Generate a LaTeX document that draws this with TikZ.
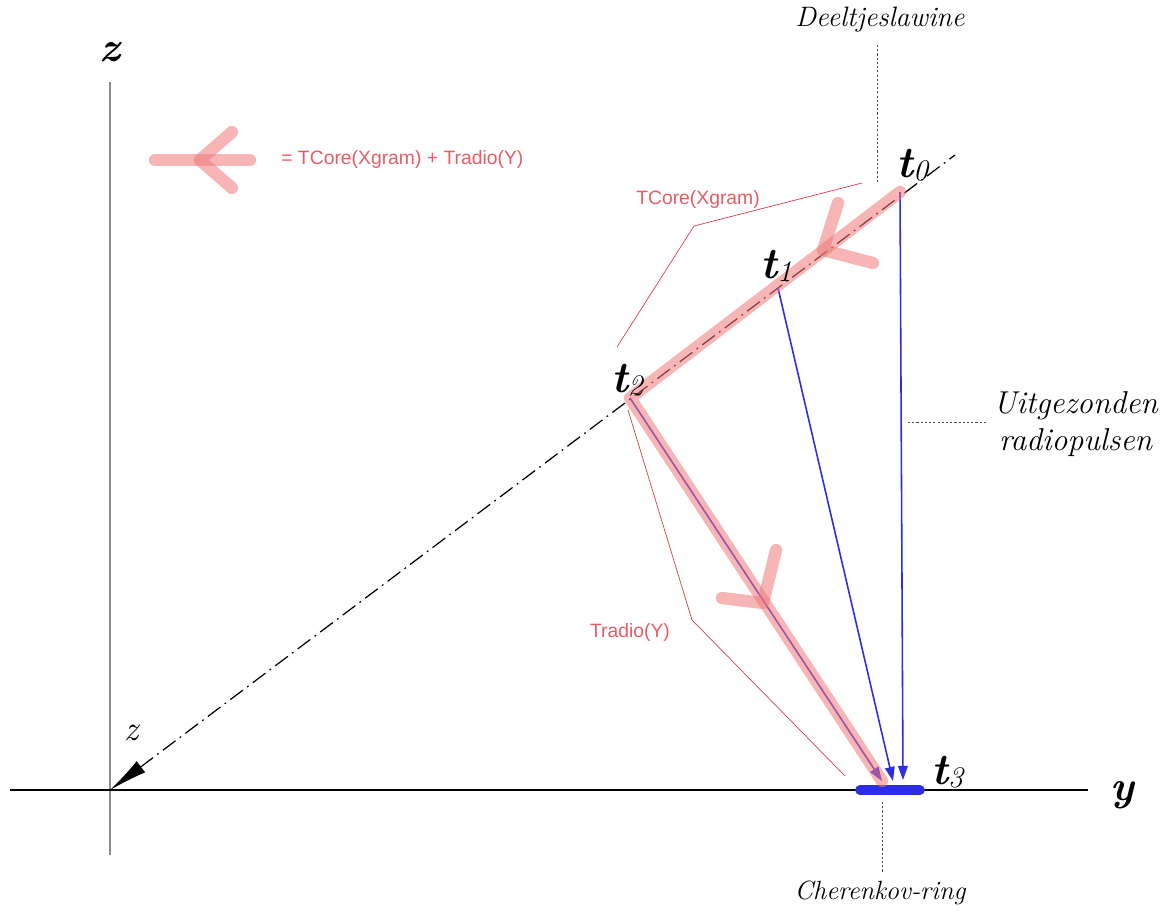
\documentclass[tikz,border=0pt]{standalone}
\usepackage{fontspec}
\newfontfamily\sansfam{Liberation Sans}
\usetikzlibrary{arrows.meta}
\definecolor{pinkred}{RGB}{240,120,120}
\definecolor{labred}{RGB}{232,92,102}
\definecolor{thinred}{RGB}{220,60,70}
\definecolor{myblue}{RGB}{45,45,225}
\definecolor{axisgray}{RGB}{140,140,140}
\newcommand\tsym[1]{{\fontsize{25}{25}\selectfont\bfseries\itshape t}\raisebox{-2pt}{\fontsize{17}{17}\selectfont\itshape #1}}
\begin{document}
\begin{tikzpicture}[x=0.02cm,y=-0.02cm,
  lab/.style={font=\fontsize{16}{19}\selectfont\itshape, inner sep=0pt, align=center},
  axlab/.style={font=\fontsize{24}{24}\selectfont\bfseries\itshape, inner sep=0pt},
  tlab/.style={inner sep=0pt},
  redtxt/.style={font=\sansfam\fontsize{11}{13}\selectfont, text=labred, inner sep=0pt},
  pinkband/.style={line width=7pt, draw=pinkred, draw opacity=0.55, line cap=round, line join=round},
  ray/.style={draw=myblue, line width=0.9pt, -{Triangle[length=8pt,width=5.5pt]}},
  thin/.style={draw=thinred, line width=0.4pt},
  dots/.style={draw=black!70, line width=0.5pt, dash pattern=on 1.2pt off 1.2pt},
  axis/.style={line width=0.7pt}]
\useasboundingbox (0,0) rectangle (1175,918);
% key points
\coordinate (O) at (110,790);
\coordinate (zt) at (110,82);
\coordinate (zb) at (110,855);
\coordinate (yl) at (10,790);
\coordinate (yr) at (1088,790);
\coordinate (dend) at (955,155);
\coordinate (t0) at (900,192);
\coordinate (t1) at (778,288);
\coordinate (t2) at (630,398);
\coordinate (a0) at (903,780);
\coordinate (a1) at (893,781);
\coordinate (a2) at (882,781);
\coordinate (ringL) at (860,790);
\coordinate (ringR) at (920,790);
% axes
\draw[axis, draw=axisgray] (zb) -- (zt);
\draw[axis] (yl) -- (yr);
\node[axlab] (zlab) at (110,52) {z};
\node[axlab] (ylab) at (1122,795) {y};
\node[font=\fontsize{20}{20}\selectfont\itshape, inner sep=0pt] (zlab2) at (132,733) {z};
% dash-dot shower axis
\draw[line width=0.7pt, dash pattern=on 9pt off 3pt on 1pt off 3pt, {Latex[length=22pt,width=8pt]}-] (O) -- (dend);
% rays
\draw[ray] (t0) -- (a0);
\draw[ray] (t1) -- (a1);
\draw[ray] (t2) -- (a2);
% ring
\draw[draw=myblue, line width=5.5pt, line cap=round] (ringL) -- (ringR);
% pink band
\draw[pinkband] (t0) -- (t2) -- (a2);
\coordinate (c1v) at (823,250);
\coordinate (c1a) at (838,203);
\coordinate (c1b) at (873,263);
\draw[pinkband] (c1a) -- (c1v) -- (c1b);
\coordinate (c2v) at (763,603);
\coordinate (c2a) at (722,598);
\coordinate (c2b) at (776,550);
\draw[pinkband] (c2a) -- (c2v) -- (c2b);
% legend
\coordinate (lgl) at (155,160);
\coordinate (lgr) at (250,160);
\coordinate (lgv) at (200,160);
\coordinate (lga) at (232,132);
\coordinate (lgb) at (232,188);
\draw[pinkband] (lgl) -- (lgr);
\draw[pinkband] (lga) -- (lgv) -- (lgb);
\node[redtxt, anchor=west] (legtxt) at (281,160) {= TCore(Xgram) + Tradio(Y)};
% annotations
\node[redtxt] (tcore) at (698,200) {TCore(Xgram)};
\coordinate (tc1) at (862,183);
\coordinate (tc2) at (694,226);
\coordinate (tc3) at (617,347);
\draw[thin] (tc1) -- (tc2) -- (tc3);
\node[redtxt] (tradio) at (630,632) {Tradio(Y)};
\coordinate (tr1) at (628,410);
\coordinate (tr2) at (692,620);
\coordinate (tr3) at (845,776);
\draw[thin] (tr1) -- (tr2) -- (tr3);
% t labels
\node[tlab] (lt0) at (912,165) {\tsym{0}};
\node[tlab] (lt1) at (776,266) {\tsym{1}};
\node[tlab] (lt2) at (627,380) {\tsym{2}};
\node[tlab] (lt3) at (947,772) {\tsym{3}};
% text labels with dotted leaders
\node[lab] (deel) at (880,20) {Deeltjeslawine};
\coordinate (dl1) at (877,45);
\coordinate (dl2) at (877,182);
\draw[dots] (dl1) -- (dl2);
\node[lab, font=\fontsize{15}{18}\selectfont\itshape] (cher) at (880,893) {Cherenkov-ring};
\coordinate (cl1) at (882,802);
\coordinate (cl2) at (882,872);
\draw[dots] (cl1) -- (cl2);
\node[lab, anchor=west, font=\fontsize{18}{21}\selectfont\itshape] (uit) at (993,424) {Uitgezonden\\radiopulsen};
\coordinate (ul1) at (908,422);
\coordinate (ul2) at (987,422);
\draw[dots] (ul1) -- (ul2);
\end{tikzpicture}
\end{document}
